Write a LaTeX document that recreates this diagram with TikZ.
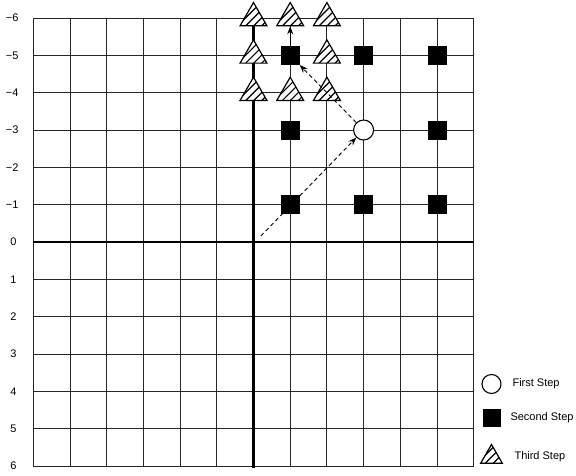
\documentclass[tikz,border=0pt]{standalone}
\usepackage{fontspec}
\setmainfont{Liberation Sans}
\usetikzlibrary{shapes.geometric,arrows.meta}
\begin{document}
\begin{tikzpicture}[
  gridline/.style={line width=0.9pt,black!85},
  axisline/.style={line width=2.4pt,black},
  firststep/.style={circle,draw,line width=1.1pt,fill=white,minimum size=20pt,inner sep=0pt},
  secondstep/.style={rectangle,fill=black,minimum size=19pt,inner sep=0pt},
  thirdstep/.style={regular polygon,regular polygon sides=3,draw,line width=1.2pt,fill=white,minimum size=31pt,inner sep=0pt,
     path picture={\foreach \i in {-3,...,3}{\draw[line width=1.2pt,shift={(path picture bounding box.center)}] (\i*8pt-20pt,-20pt) -- ++(40pt,40pt);}}},
  axlabel/.style={font=\fontsize{11}{13}\selectfont},
  legendtext/.style={font=\fontsize{11}{13}\selectfont,anchor=west},
  dasharrow/.style={dash pattern=on 4pt off 3pt,line width=0.9pt,-{Stealth[length=8pt,width=6pt]}},
  solidarrow/.style={line width=1pt,-{Stealth[length=8pt,width=6pt]}},
]
\useasboundingbox (0,0) rectangle (576pt,-475pt);
\begin{scope}[shift={(253.5pt,-242pt)},x=36.7pt,y=-37.33pt]
  % grid
  \foreach \k in {-6,...,6}{
    \draw[gridline] (\k,-6) -- (\k,6);
    \draw[gridline] (-6,\k) -- (6,\k);
  }
  % axes
  \draw[axisline] (-6,0) -- (6,0);
  \draw[axisline] (0,-6) -- (0,6.05);
  % axis labels
  \foreach \n in {1,...,6}{
    \node[axlabel,anchor=east,xshift=-11.3pt] (lm\n) at (-6,-\n) {−\n};
    \node[axlabel,xshift=-19.8pt] (lp\n) at (-6,\n) {\n};
  }
  \node[axlabel,xshift=-19.8pt] (lzero) at (-6,0) {0};
  % second step squares
  \node[secondstep] (s1m5) at (1,-5) {};
  \node[secondstep] (s3m5) at (3,-5) {};
  \node[secondstep] (s5m5) at (5,-5) {};
  \node[secondstep] (s1m3) at (1,-3) {};
  \node[secondstep] (s5m3) at (5,-3) {};
  \node[secondstep] (s1m1) at (1,-1) {};
  \node[secondstep] (s3m1) at (3,-1) {};
  \node[secondstep] (s5m1) at (5,-1) {};
  % first step circle
  \node[firststep] (c3m3) at (3,-3) {};
  % third step triangles
  \node[thirdstep] (t0m6) at (0,-6) {};
  \node[thirdstep] (t1m6) at (1,-6) {};
  \node[thirdstep] (t2m6) at (2,-6) {};
  \node[thirdstep] (t0m5) at (0,-5) {};
  \node[thirdstep] (t2m5) at (2,-5) {};
  \node[thirdstep] (t0m4) at (0,-4) {};
  \node[thirdstep] (t1m4) at (1,-4) {};
  \node[thirdstep] (t2m4) at (2,-4) {};
  % arrows
  \coordinate (start) at (0.2,-0.16);
  \draw[dasharrow] (start) -- (c3m3);
  \draw[dasharrow] (c3m3) -- (s1m5);
  \draw[solidarrow] (s1m5) -- (t1m6);
\end{scope}
% legend
\node[firststep,minimum size=19pt] (lgc) at (491.5pt,-384pt) {};
\node[secondstep,minimum size=18pt] (lgs) at (492pt,-418pt) {};
\node[thirdstep,minimum size=25pt] (lgt) at (491.5pt,-457pt) {};
\node[legendtext] (lgct) at (509pt,-384pt) {First Step};
\node[legendtext] (lgst) at (507pt,-418pt) {Second Step};
\node[legendtext] (lgtt) at (511pt,-457pt) {Third Step};
\end{tikzpicture}
\end{document}
